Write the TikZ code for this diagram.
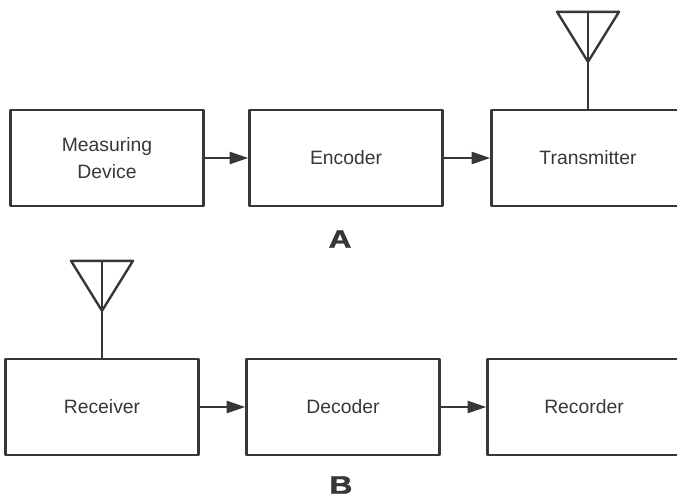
\documentclass[tikz,border=0pt]{standalone}
\usepackage{graphicx}
\usepackage{fontspec}
\setmainfont{Liberation Sans}
\newfontfamily\tagfont{Liberation Sans Bold}[FakeBold=1.5]
\usetikzlibrary{arrows.meta}
\definecolor{inkgrey}{RGB}{55,55,55}

\begin{document}
\begin{tikzpicture}[x=0.75pt, y=-0.75pt, line width=1.8pt, line join=round,
    draw=inkgrey, text=inkgrey,
    font=\fontsize{14.5}{20}\selectfont,
    block/.style={draw, minimum width=144.75pt, minimum height=72pt, align=center},
    flow/.style={-{Triangle[length=14pt,width=9pt]}},
    tag/.style={font=\tagfont\fontsize{19}{21}\selectfont}]
  \clip (0,0) rectangle (677,501);
  % A: measuring side
  \node[block] (meas)  at (107,158) {Measuring\\Device};
  \node[block] (enc)   at (346,158) {Encoder};
  \node[block] (trans) at (588,158) {Transmitter};
  \node[tag]   (lblA)  at (340,239) {\scalebox{1.25}[1]{A}};
  % B: receiving side
  \node[block] (recv)  at (102,407) {Receiver};
  \node[block] (dec)   at (343,407) {Decoder};
  \node[block] (rec)   at (584,407) {Recorder};
  \node[tag]   (lblB)  at (341,485) {\scalebox{1.25}[1]{B}};
  \draw[flow] (meas) -- (enc);
  \draw[flow] (enc) -- (trans);
  \draw[flow] (recv) -- (dec);
  \draw[flow] (dec) -- (rec);
  % antennas
  \foreach \b in {trans, recv} {
    \draw (\b.north) -- ++(0,-97);
    \draw (\b.north) ++(0,-47) coordinate (\b-ap) -- ++(-31,-50) -- ++(62,0) -- cycle;
  }
\end{tikzpicture}
\end{document}
